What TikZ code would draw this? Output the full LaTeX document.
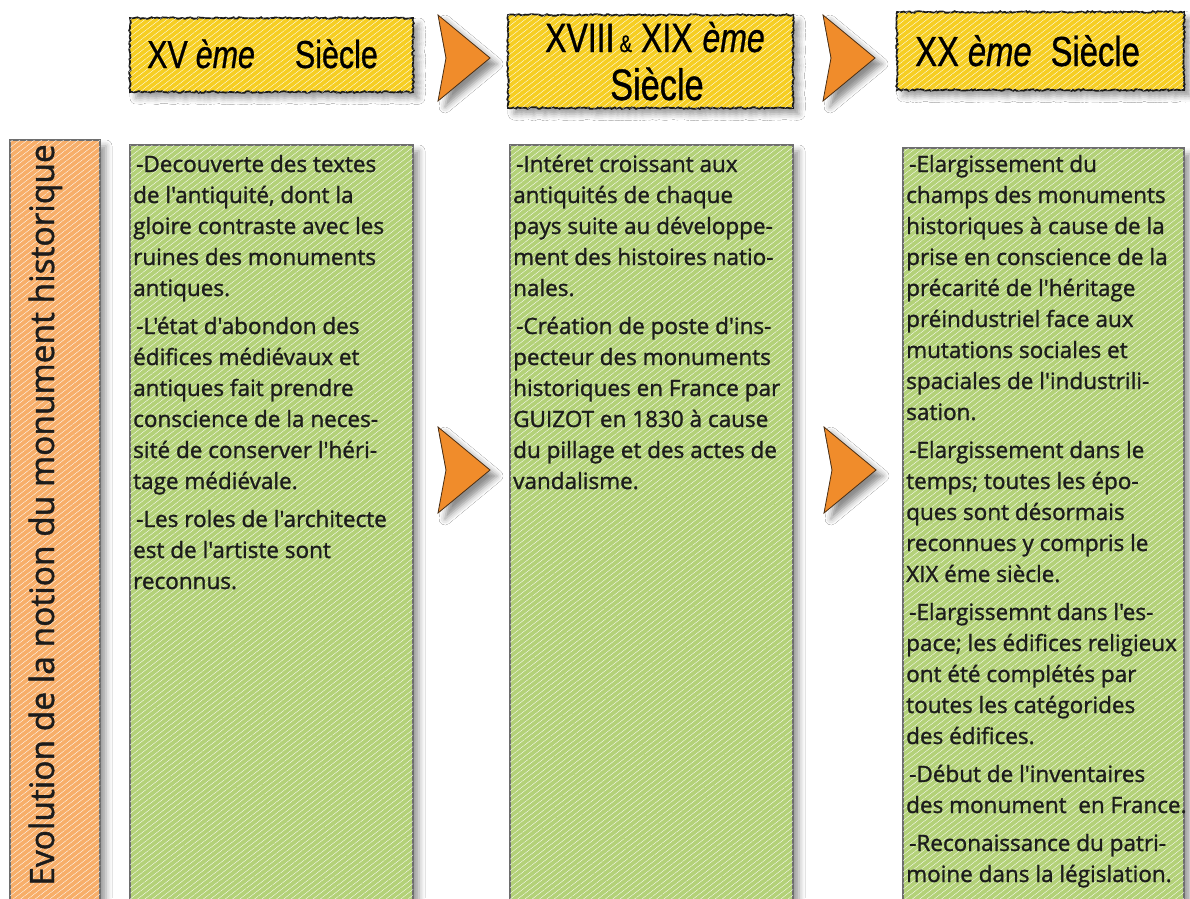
\documentclass[tikz,border=0pt]{standalone}
\usepackage{fontspec}
\setmainfont{Open Sans}
\newfontfamily\bodyfont[FakeBold=1.3]{Open Sans}
\newfontfamily\hdrfont[FakeStretch=0.78,FakeBold=0.8]{Liberation Sans}
\usetikzlibrary{shadows.blur,patterns.meta,decorations.pathmorphing}

\definecolor{hdryellow}{HTML}{F6CE22}
\definecolor{colgreen}{HTML}{B3D178}
\definecolor{sideorange}{HTML}{F7AE69}
\definecolor{dartorange}{HTML}{F08C2B}
\definecolor{dartline}{HTML}{4A2E14}
\definecolor{edgegray}{HTML}{6E6E6E}
\definecolor{txt}{HTML}{1C1C1C}

\tikzset{
  softshadow/.style={blur shadow={shadow xshift=6pt, shadow yshift=-6pt,
      shadow blur radius=6pt, shadow opacity=40}},
  hatch/.style={postaction={pattern={Lines[angle=38,distance=4.5pt,line width=0.35pt]},
      pattern color=#1, fill opacity=0.18}},
  hdrbox/.style={draw=black!90, line width=1.7pt, fill=hdryellow, inner sep=0pt,
      softshadow, hatch=white,
      decorate, decoration={random steps, segment length=2pt, amplitude=0.9pt}},
  colbox/.style={draw=edgegray, line width=1.3pt, fill=colgreen, inner sep=0pt,
      softshadow, hatch=white},
  sidebox/.style={draw=edgegray, line width=1.3pt, fill=sideorange, inner sep=0pt,
      softshadow, hatch=white},
  hdrtext/.style={anchor=base west, inner sep=0pt, text=black},
  bodytext/.style={anchor=base west, inner sep=0pt, text=txt,
      font=\bodyfont\fontsize{22.5}{31}\selectfont},
  dart/.pic={
    \path[draw=dartline, line width=0.8pt, fill=dartorange,
      blur shadow={shadow xshift=7pt, shadow yshift=-6pt, shadow blur radius=6pt, shadow opacity=45}]
      (-26,-43) -- (26,0) -- (-26,43) -- (-18,0) -- cycle;
  }
}

\newcommand{\para}{\hspace*{3pt}}
\newcommand{\body}[1]{\parbox[t]{400pt}{\raggedright #1}}

\begin{document}
\begin{tikzpicture}[x=1pt,y=-1pt]
\pgfmathsetseed{7}
\useasboundingbox (0,0) rectangle (1190,898);
\fill[white] (0,0) rectangle (1190,898);

% header boxes
\node[hdrbox, minimum width=283pt, minimum height=74pt] (h1) at (271.5,55) {};
\node[hdrbox, minimum width=285pt, minimum height=93pt] (h2) at (650.5,61.5) {};
\node[hdrbox, minimum width=287pt, minimum height=78pt] (h3) at (1040.5,51) {};

\node[hdrtext, font=\hdrfont\fontsize{39}{39}\selectfont] (h1t) at (147,68)
  {XV\hspace{8pt}{\itshape ème}\hspace{40pt}Siècle};
\node[hdrtext, font=\hdrfont\fontsize{41}{41}\selectfont] (h2t) at (545,52)
  {XVIII\hspace{5pt}{\fontsize{24}{24}\selectfont\&}\hspace{9pt}XIX\hspace{10pt}{\itshape ème}};
\node[hdrtext, font=\hdrfont\fontsize{44}{44}\selectfont] (h2u) at (610,100) {Siècle};
\node[hdrtext, font=\hdrfont\fontsize{42}{42}\selectfont] (h3t) at (915,66)
  {XX\hspace{9pt}{\itshape ème}\hspace{19pt}Siècle};

% header darts
\pic (d1) at (464,58) {dart};
\pic (d2) at (849,58) {dart};

% side label column
\node[sidebox, minimum width=90pt, minimum height=768pt] (side) at (55,524) {};
\node[rotate=90, anchor=base, inner sep=0pt, text=txt,
      font=\bodyfont\fontsize{33.5}{33.5}\selectfont] (lbl) at (54,515)
  {Evolution de la notion du monument historique};

% content columns
\node[colbox, minimum width=283pt, minimum height=760pt] (c1) at (271.5,525) {};
\node[colbox, minimum width=283pt, minimum height=760pt] (c2) at (651.5,525) {};
\node[colbox, minimum width=281pt, minimum height=757pt] (c3) at (1043.5,526.5) {};

% darts between columns
\pic (d3) at (464,470) {dart};
\pic (d4) at (850,470) {dart};

\node[bodytext] (t1) at (133,172) {\body{%
\para-Decouverte des textes\\
de l'antiquité, dont la\\
gloire contraste avec les\\
ruines des monuments\\
antiques.\\[7pt]
\para-L'état d'abondon des\\
édifices médiévaux et\\
antiques fait prendre\\
conscience de la neces-\\
sité de conserver l'héri-\\
tage médiévale.\\[7pt]
\para-Les roles de l'architecte\\
est de l'artiste sont\\
reconnus.}};

\node[bodytext] (t2) at (513,172) {\body{%
\para-Intéret croissant aux\\
antiquités de chaque\\
pays suite au développe-\\
ment des histoires natio-\\
nales.\\[7pt]
\para-Création de poste d'ins-\\
pecteur des monuments\\
historiques en France par\\
GUIZOT en 1830 à cause\\
du pillage et des actes de\\
vandalisme.}};

\node[bodytext] (t3) at (906,172) {\body{%
\para-Elargissement du\\
champs des monuments\\
historiques à cause de la\\
prise en conscience de la\\
précarité de l'héritage\\
préindustriel face aux\\
mutations sociales et\\
spaciales de l'industrili-\\
sation.\\[7pt]
\para-Elargissement dans le\\
temps; toutes les épo-\\
ques sont désormais\\
reconnues y compris le\\
XIX éme siècle.\\[7pt]
\para-Elargissemnt dans l'es-\\
pace; les édifices religieux\\
ont été complétés par\\
toutes les catégorides\\
des édifices.\\[7pt]
\para-Début de l'inventaires\\
des monument\ \ en France.\\[7pt]
\para-Reconaissance du patri-\\
moine dans la législation.}};
\end{tikzpicture}
\end{document}
